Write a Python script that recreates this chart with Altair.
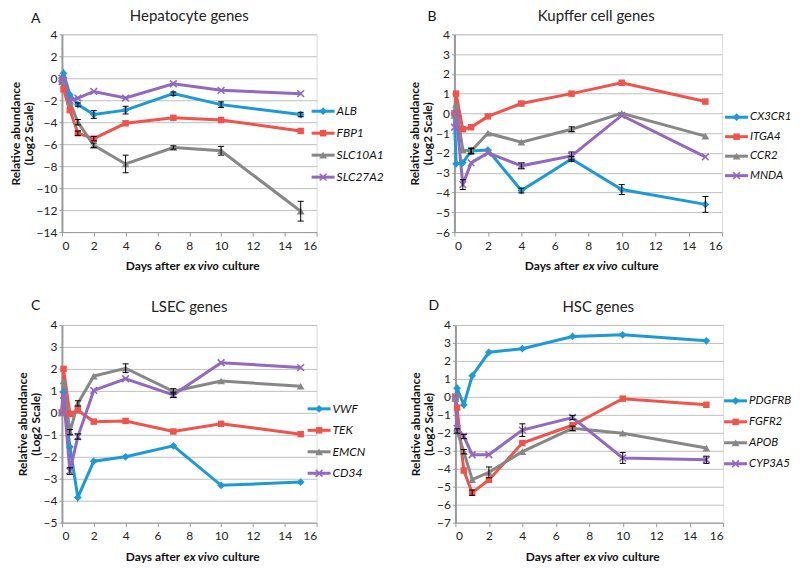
import altair as alt
import pandas as pd

FONT = "Lato"
DAYS = [0, 0.1, 0.5, 1, 2, 4, 7, 10, 15]
COLORS = ["#1C9AD6", "#F0534B", "#878787", "#9268C0"]
SHAPES = ["diamond", "square", "triangle-up", "M-1,-1L1,1M-1,1L1,-1"]
SIZES = [60, 42, 60, 45]

# Panel A - Hepatocyte genes
A_GENES = ["ALB", "FBP1", "SLC10A1", "SLC27A2"]
A_ALB = [0.0, 0.45, -1.5, -2.4, -3.3, -2.9, -1.4, -2.4, -3.3]
A_FBP1 = [-0.2, -1.0, -2.9, -5.0, -5.5, -4.1, -3.6, -3.8, -4.8]
A_SLC10A1 = [-0.3, -0.1, -2.15, -4.0, -6.1, -7.8, -6.3, -6.6, -12.1]
A_SLC27A2 = [0.0, -0.2, -2.0, -1.8, -1.2, -1.8, -0.5, -1.1, -1.4]
A_ALB_ERR = [0, 0.05, 0.1, 0.15, 0.35, 0.35, 0.15, 0.25, 0.2]
A_FBP1_ERR = [0, 0.05, 0.1, 0.2, 0.2, 0.1, 0.1, 0.1, 0.1]
A_SLC10A1_ERR = [0, 0.05, 0.1, 0.25, 0.2, 0.8, 0.15, 0.4, 0.9]
A_SLC27A2_ERR = [0, 0.05, 0.1, 0.1, 0.1, 0.1, 0.1, 0.1, 0.1]

# Panel B - Kupffer cell genes
B_GENES = ["CX3CR1", "ITGA4", "CCR2", "MNDA"]
B_CX3CR1 = [0.0, -2.55, -2.5, -1.9, -1.85, -3.9, -2.3, -3.85, -4.6]
B_ITGA4 = [0.0, 1.0, -0.8, -0.7, -0.15, 0.5, 1.0, 1.55, 0.6]
B_CCR2 = [-0.1, 0.45, -1.85, -1.9, -1.0, -1.45, -0.8, 0.0, -1.15]
B_MNDA = [-0.7, 0.0, -3.6, -2.5, -2.0, -2.65, -2.15, -0.1, -2.2]
B_CX3CR1_ERR = [0, 0.1, 0.1, 0.12, 0.1, 0.12, 0.12, 0.25, 0.4]
B_ITGA4_ERR = [0, 0.05, 0.05, 0.05, 0.05, 0.05, 0.05, 0.05, 0.05]
B_CCR2_ERR = [0, 0.1, 0.1, 0.15, 0.1, 0.1, 0.12, 0.05, 0.1]
B_MNDA_ERR = [0, 0.1, 0.25, 0.1, 0.1, 0.15, 0.2, 0.05, 0.05]

# Panel C - LSEC genes
C_GENES = ["VWF", "TEK", "EMCN", "CD34"]
C_VWF = [0.0, 0.95, -1.55, -3.85, -2.2, -2.0, -1.5, -3.3, -3.15]
C_TEK = [0.0, 2.0, -0.05, 0.12, -0.4, -0.37, -0.85, -0.5, -0.97]
C_EMCN = [0.0, 1.45, -0.88, 0.43, 1.67, 2.03, 0.98, 1.45, 1.21]
C_CD34 = [0.0, 0.8, -2.65, -1.08, 1.02, 1.55, 0.82, 2.28, 2.06]
C_VWF_ERR = [0, 0.05, 0.05, 0.05, 0.05, 0.05, 0.05, 0.05, 0.05]
C_TEK_ERR = [0, 0.05, 0.05, 0.05, 0.05, 0.05, 0.05, 0.05, 0.05]
C_EMCN_ERR = [0, 0.05, 0.12, 0.12, 0.05, 0.2, 0.12, 0.05, 0.05]
C_CD34_ERR = [0, 0.05, 0.15, 0.12, 0.05, 0.05, 0.12, 0.05, 0.05]

# Panel D - HSC genes
D_GENES = ["PDGFRB", "FGFR2", "APOB", "CYP3A5"]
D_PDGFRB = [0.0, 0.48, -0.45, 1.17, 2.48, 2.68, 3.36, 3.45, 3.12]
D_FGFR2 = [0.0, -0.6, -4.1, -5.33, -4.62, -2.57, -1.58, -0.1, -0.44]
D_APOB = [-0.1, -1.9, -3.05, -4.6, -4.2, -3.05, -1.75, -2.02, -2.85]
D_CYP3A5 = [0.0, -1.75, -2.2, -3.22, -3.22, -1.85, -1.15, -3.4, -3.5]
D_PDGFRB_ERR = [0, 0.05, 0.05, 0.05, 0.05, 0.05, 0.08, 0.05, 0.08]
D_FGFR2_ERR = [0, 0.05, 0.1, 0.15, 0.1, 0.1, 0.1, 0.05, 0.05]
D_APOB_ERR = [0, 0.12, 0.12, 0.1, 0.3, 0.1, 0.12, 0.05, 0.1]
D_CYP3A5_ERR = [0, 0.05, 0.12, 0.1, 0.05, 0.35, 0.12, 0.3, 0.2]

RES = dict(color="independent")


def panel(letter, title, genes, series, errors, ydom, ystep, w, h, leg, title_dx, letter_dx, letter_dy):
    recs = []
    for g, vals, errs in zip(genes, series, errors):
        for d, v, e in zip(DAYS, vals, errs):
            recs.append(dict(day=d, value=v, lo=v - e, hi=v + e, err=e, gene=g))
    df = pd.DataFrame(recs)
    base = alt.Chart(df)
    yvals = list(range(ydom[0], ydom[1] + 1, ystep))
    xsc = alt.Scale(domain=[0, 16], nice=False, zero=False)
    ysc = alt.Scale(domain=list(ydom), nice=False, zero=False)
    x_axis = alt.Axis(values=list(range(0, 17, 2)), tickCount=9, title=None, grid=False,
                      domainColor="#9a9a9a", domainWidth=1, tickColor="#9a9a9a",
                      tickSize=4, labelPadding=4, labelFont=FONT, labelFontSize=12,
                      labelColor="#222222", labelOverlap=False)
    y_axis = alt.Axis(values=yvals, tickCount=len(yvals),
                      title=["Relative abundance", "(Log2 Scale)"],
                      titleFont=FONT, titleFontSize=12, titleFontWeight="bold",
                      titleLineHeight=13, titlePadding=1, titleColor="#111111",
                      grid=True, gridColor="#bfbfbf", gridWidth=1,
                      domainColor="#9a9a9a", domainWidth=2, tickColor="#9a9a9a",
                      tickSize=3, labelPadding=2, labelFont=FONT, labelFontSize=12,
                      labelColor="#222222", format="d", labelOverlap=False)
    xe = alt.X("day:Q", scale=xsc, axis=x_axis)
    ye = alt.Y("value:Q", scale=ysc, axis=y_axis)
    ylo = alt.Y("lo:Q", scale=ysc, axis=y_axis)
    yhi = alt.Y("hi:Q", scale=ysc, axis=y_axis)

    col = alt.Color("gene:N", scale=alt.Scale(domain=genes, range=COLORS), legend=None)
    lines = base.mark_line(strokeWidth=3).encode(x=xe, y=ye, color=col, detail="gene:N")

    pts = []
    for i, g in enumerate(genes):
        pts.append(
            base.transform_filter(alt.datum.gene == g)
            .mark_point(shape=SHAPES[i], filled=(i < 3), size=SIZES[i], opacity=1,
                        strokeWidth=(1.6 if i == 3 else 0.6), color=COLORS[i])
            .encode(x=xe, y=ye)
        )

    eb = base.transform_filter("datum.err >= 0.12")
    rules = eb.mark_rule(color="black", strokeWidth=1).encode(x=xe, y=ylo, y2="hi:Q")
    cap_lo = eb.mark_tick(orient="horizontal", color="black", size=6, thickness=1, opacity=1).encode(x=xe, y=ylo)
    cap_hi = eb.mark_tick(orient="horizontal", color="black", size=6, thickness=1, opacity=1).encode(x=xe, y=yhi)

    def one(t):
        return alt.Chart(pd.DataFrame({"t": [t]}))

    def label(t, x, y, color="#111111", **kw):
        return one(t).mark_text(font=FONT, baseline="middle", color=color, **kw).encode(
            text="t:N", x=alt.value(x), y=alt.value(y))

    # legend: line + marker + italic gene name
    leg_layers = []
    lx0, ly0, ldy, lfs = leg
    for i, g in enumerate(genes):
        yy = ly0 + i * ldy
        c = one(g)
        leg_layers.append(c.mark_rule(color=COLORS[i], strokeWidth=3).encode(
            x=alt.value(lx0), x2=alt.value(lx0 + 23), y=alt.value(yy)))
        leg_layers.append(c.mark_point(shape=SHAPES[i], filled=(i < 3), size=SIZES[i], opacity=1,
                                       strokeWidth=(1.6 if i == 3 else 0.6), color=COLORS[i]).encode(
            x=alt.value(lx0 + 11.5), y=alt.value(yy)))
        leg_layers.append(label(g, lx0 + 25, yy, fontSize=lfs, fontStyle="italic", align="left"))

    letter_txt = label(letter, letter_dx, letter_dy, fontSize=14, align="left")
    title_txt = label(title, w / 2 + title_dx, -18, color="#222222", fontSize=15, align="center")
    xt1 = label("Days after", w / 2 + 12 - 21, h + 34, fontSize=12, fontWeight="bold", align="right")
    xt2 = label("ex vivo", w / 2 + 12, h + 34, fontSize=12, fontWeight="bold", fontStyle="italic", align="center")
    xt3 = label("culture", w / 2 + 12 + 21, h + 34, fontSize=12, fontWeight="bold", align="left")

    layers = [lines] + pts + [rules, cap_lo, cap_hi] + leg_layers + [letter_txt, title_txt, xt1, xt2, xt3]
    return alt.layer(*layers).properties(width=w, height=h)


WL, WR, H = 255, 268, 198

pA = panel("A", "Hepatocyte genes", A_GENES, [A_ALB, A_FBP1, A_SLC10A1, A_SLC27A2],
           [A_ALB_ERR, A_FBP1_ERR, A_SLC10A1_ERR, A_SLC27A2_ERR], (-14, 4), 2, WL, H,
           (WL - 5, 77, 22, 12), 0, -31, -15)
pB = panel("B", "Kupffer cell genes", B_GENES, [B_CX3CR1, B_ITGA4, B_CCR2, B_MNDA],
           [B_CX3CR1_ERR, B_ITGA4_ERR, B_CCR2_ERR, B_MNDA_ERR], (-6, 4), 1, WR, H,
           (WR + 3, 83, 19.5, 11.5), 8, -27, -17)
pC = panel("C", "LSEC genes", C_GENES, [C_VWF, C_TEK, C_EMCN, C_CD34],
           [C_VWF_ERR, C_TEK_ERR, C_EMCN_ERR, C_CD34_ERR], (-5, 4), 1, WL, H,
           (WL - 9, 84, 21.5, 12), 0, -31, -19)
pD = panel("D", "HSC genes", D_GENES, [D_PDGFRB, D_FGFR2, D_APOB, D_CYP3A5],
           [D_PDGFRB_ERR, D_FGFR2_ERR, D_APOB_ERR, D_CYP3A5_ERR], (-7, 4), 1, WR, H,
           (WR + 1, 76, 21, 11.5), 9, -27, -19)

row1 = alt.hconcat(pA, pB, spacing=23).resolve_scale(**RES)
row2 = alt.hconcat(pC, pD, spacing=42).resolve_scale(**RES)
chart = (
    alt.vconcat(row1, row2, spacing=25)
    .resolve_scale(**RES)
    .properties(padding=0)
    .configure_view(strokeWidth=0, stroke="transparent")
    .configure(font=FONT)
)

chart.save("out.html", embed_options={"renderer": "svg", "actions": False})
